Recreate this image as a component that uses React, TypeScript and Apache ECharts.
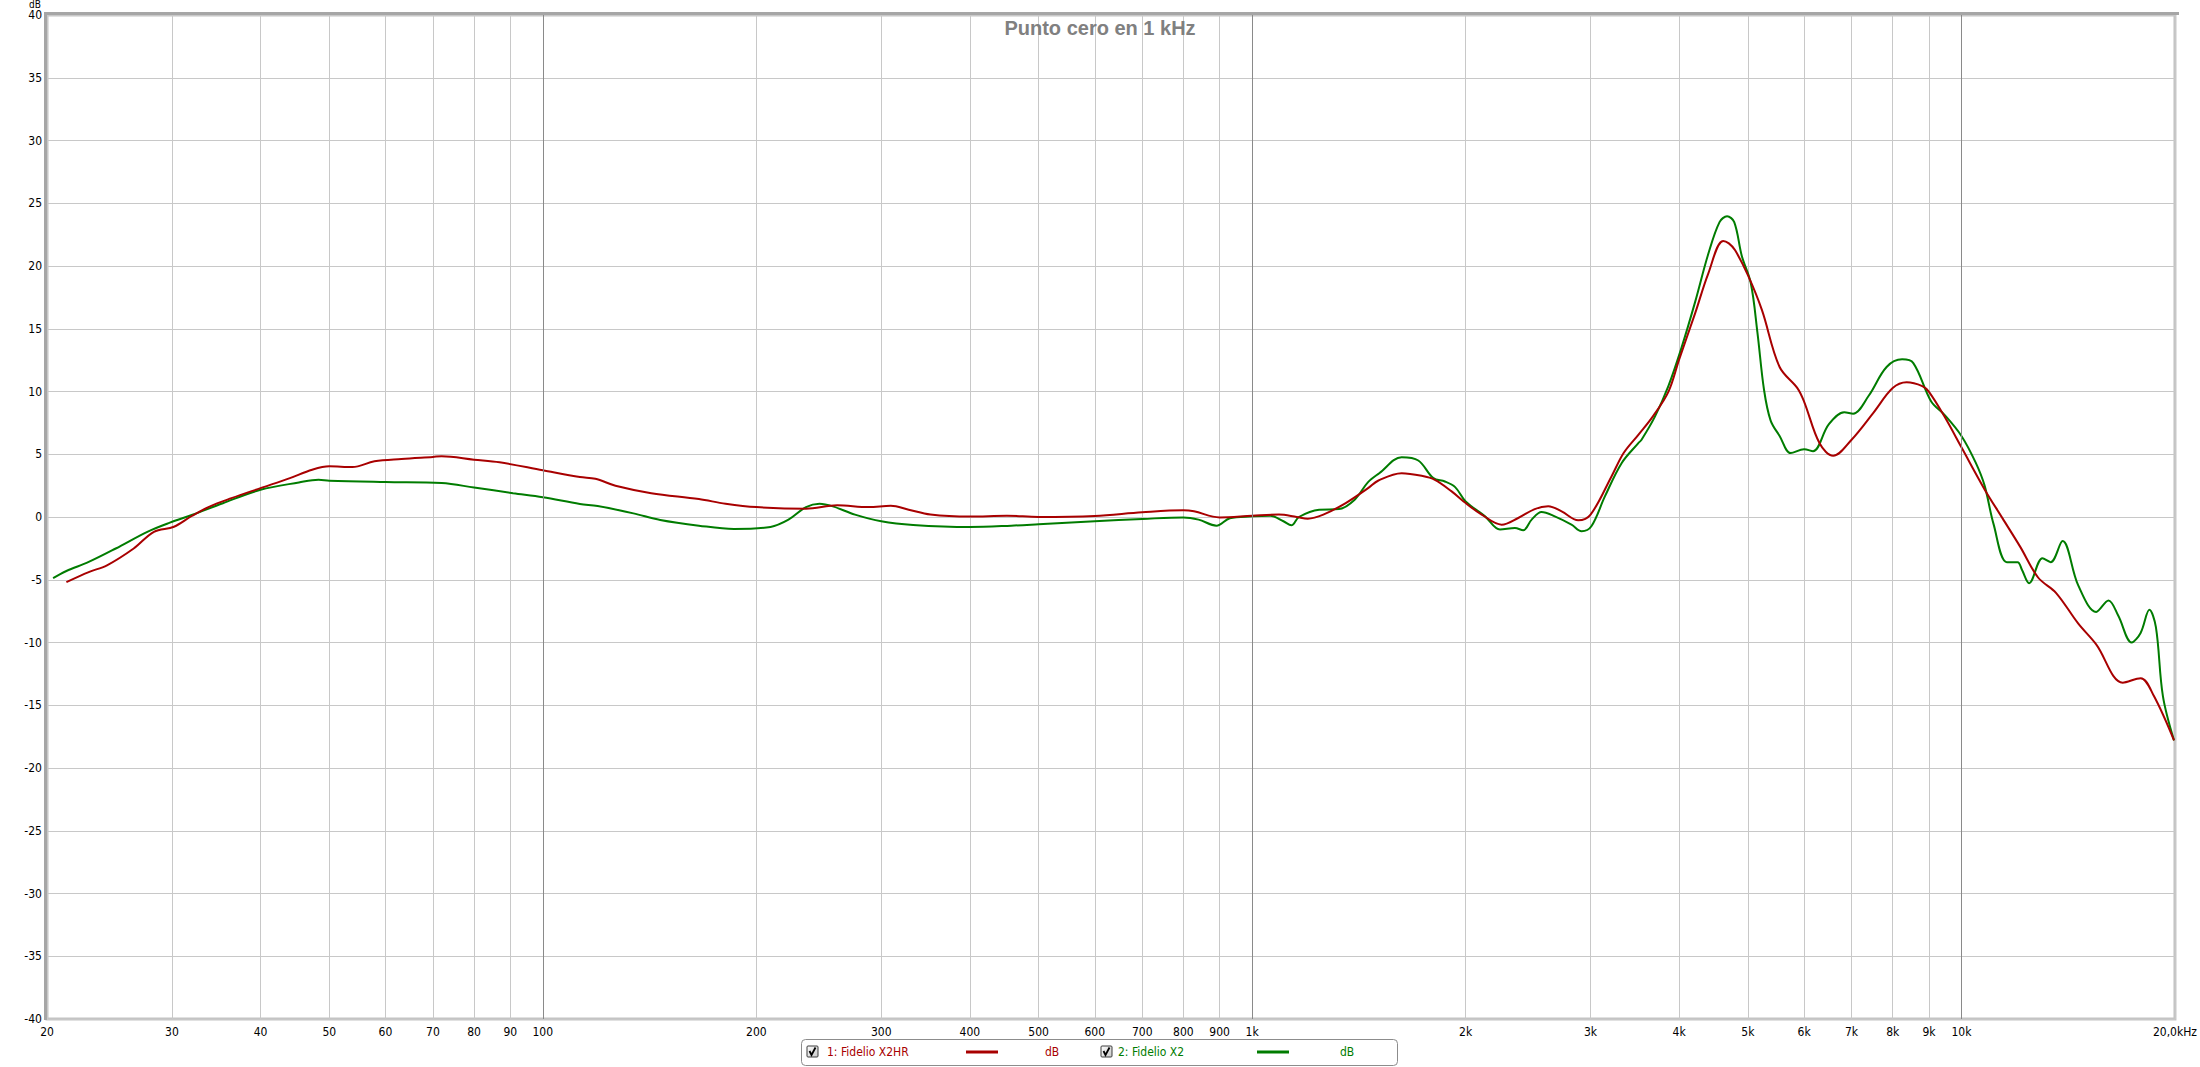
import React, { useEffect, useRef } from "react";
import * as echarts from "echarts";

const FONT = "'Liberation Sans Narrow', 'Arial Narrow', 'DejaVu Sans Condensed', 'Liberation Sans', sans-serif";

const titleText = "Punto cero en 1 kHz";
const seriesNames = ["1: Fidelio X2HR", "2: Fidelio X2"];
const seriesColors = ["#a80000", "#007c00"];

const xTickFreqs = [20, 30, 40, 50, 60, 70, 80, 90, 100, 200, 300, 400, 500, 600, 700, 800, 900, 1000, 2000, 3000, 4000, 5000, 6000, 7000, 8000, 9000, 10000, 20000];
const xTickLabels = ["20", "30", "40", "50", "60", "70", "80", "90", "100", "200", "300", "400", "500", "600", "700", "800", "900", "1k", "2k", "3k", "4k", "5k", "6k", "7k", "8k", "9k", "10k", "20,0kHz"];
const majorFreqs = [100, 1000, 10000];

const x2hrFreq = [21.3, 22.9, 24.3, 26.5, 28.3, 30.2, 32.0, 33.9, 36.4, 40, 44, 47.3, 50, 53.9, 57.9, 63.2, 70, 72, 80, 86.9, 100, 112.8, 118.6, 126.6, 142.2, 166, 181, 200, 235, 260, 288, 309.5, 328, 352, 400, 451, 500, 600, 700, 800, 828, 900, 1000, 1091, 1156, 1198, 1260, 1355, 1457, 1507, 1625, 1734, 1810, 1911, 2000, 2107, 2248, 2372, 2503, 2615, 2731, 2882, 3000, 3211, 3340, 3501, 3671, 3862, 4000, 4211, 4396, 4613, 4700, 4797, 5000, 5232, 5542, 5871, 6000, 6312, 6594, 7000, 7513, 8000, 8370, 8806, 9000, 9465, 10000, 10781, 11423, 12104, 12825, 13592, 14605, 15486, 16882, 17889, 18680, 19939];
const x2hrDb = [-5.19, -4.39, -3.85, -2.51, -1.18, -0.78, 0.08, 0.83, 1.5, 2.3, 3.1, 3.77, 4.04, 3.98, 4.44, 4.63, 4.79, 4.84, 4.57, 4.36, 3.72, 3.18, 3.05, 2.49, 1.9, 1.43, 1.06, 0.79, 0.66, 0.93, 0.79, 0.9, 0.58, 0.19, 0.03, 0.1, 0.0, 0.08, 0.37, 0.53, 0.45, -0.03, 0.1, 0.19, 0.0, -0.13, 0.19, 1.11, 2.3, 2.91, 3.49, 3.28, 2.96, 2.04, 1.11, 0.19, -0.61, -0.08, 0.63, 0.85, 0.45, -0.26, 0.19, 3.23, 5.1, 6.53, 8.0, 9.97, 12.56, 16.2, 19.4, 22.0, 21.8, 21.25, 19.27, 16.5, 11.95, 10.27, 9.2, 5.85, 4.88, 6.16, 8.3, 10.27, 10.73, 10.43, 9.97, 8.0, 5.55, 2.2, -0.09, -2.38, -4.82, -6.04, -8.48, -10.15, -13.2, -12.84, -14.27, -17.8];

const x2Freq = [20.4, 21.3, 22.9, 25, 27.7, 29.8, 32, 35.4, 40, 45.3, 48.3, 50, 60, 72, 80, 90.8, 100, 112.8, 119.5, 134.2, 146.4, 166, 186, 209.4, 222, 235, 245.5, 256.4, 275.5, 300, 332.7, 400, 457.5, 500, 600, 700, 800, 840.5, 890.6, 930.2, 1000, 1060, 1107, 1136, 1164, 1243, 1326, 1395, 1457, 1511, 1625, 1715, 1801, 1870, 1933, 2000, 2130, 2236, 2347, 2411, 2478, 2559, 2671, 2820, 2914, 3008, 3143, 3318, 3501, 3540, 3697, 3862, 4031, 4211, 4396, 4560, 4673, 4783, 4902, 5046, 5157, 5269, 5383, 5542, 5745, 6000, 6177, 6500, 6836, 7035, 7400, 7843, 8249, 8554, 9065, 9465, 10000, 10474, 10781, 11097, 11588, 12000, 12170, 12457, 13009, 13360, 13888, 14605, 15486, 16118, 16640, 17378, 17889, 18408, 18800, 19232, 19939];
const x2Db = [-4.87, -4.3, -3.58, -2.51, -1.18, -0.45, 0.16, 1.1, 2.17, 2.75, 2.97, 2.89, 2.78, 2.7, 2.35, 1.9, 1.58, 1.04, 0.88, 0.29, -0.24, -0.69, -0.95, -0.79, -0.21, 0.79, 1.06, 0.85, 0.19, -0.34, -0.63, -0.79, -0.69, -0.58, -0.34, -0.16, -0.03, -0.21, -0.69, -0.1, 0.05, 0.1, -0.34, -0.66, 0.0, 0.58, 0.63, 1.38, 2.78, 3.49, 4.76, 4.5, 3.1, 2.83, 2.38, 1.24, 0.05, -1.0, -0.87, -1.06, -0.21, 0.4, 0.05, -0.61, -1.14, -0.74, 1.64, 4.29, 5.87, 6.16, 8.0, 10.43, 13.5, 17.1, 20.95, 23.5, 23.96, 23.5, 20.8, 18.66, 14.7, 10.12, 7.68, 6.46, 5.09, 5.4, 5.24, 7.38, 8.35, 8.23, 9.66, 11.95, 12.56, 12.26, 9.2, 8.14, 6.46, 4.33, 2.5, -0.55, -3.6, -3.6, -4.2, -5.27, -3.29, -3.6, -1.92, -5.43, -7.56, -6.65, -7.87, -10.0, -9.24, -7.4, -8.78, -14.27, -17.8];

const yMin = -40;
const yMax = 40;
const yStep = 5;

const toPoints = (f: number[], v: number[]) => f.map((fr, i) => [Math.log10(fr), v[i]]);

function checkbox(x: number, y: number) {
  return {
    type: "group",
    children: [
      {
        type: "rect",
        shape: { x, y, width: 11, height: 11, r: 1 },
        style: {
          fill: new echarts.graphic.LinearGradient(0, 0, 1, 1, [
            { offset: 0, color: "#ffffff" },
            { offset: 1, color: "#c8c8c8" },
          ]),
          stroke: "#3c3c3c",
          lineWidth: 1,
        },
      },
      {
        type: "polyline",
        shape: { points: [[x + 2.5, y + 5], [x + 4.5, y + 9], [x + 8.5, y + 1.5]] },
        style: { stroke: "#000", lineWidth: 1.8, fill: "none" },
      },
    ],
  };
}

export default function App() {
  const ref = useRef<HTMLDivElement>(null);
  useEffect(() => {
    document.body.style.margin = "0";
    const chart = echarts.init(ref.current!, null, { renderer: "svg" });
    const tickVals = xTickFreqs.map((f) => Math.log10(f));
    const labelFor = (v: number) => {
      let best = 0;
      for (let i = 1; i < xTickFreqs.length; i++) {
        if (Math.abs(Math.log10(xTickFreqs[i]) - v) < Math.abs(Math.log10(xTickFreqs[best]) - v)) best = i;
      }
      return xTickLabels[best];
    };
    const legendY = 1052;
    chart.setOption({
      animation: false,
      backgroundColor: "#ffffff",
      title: {
        text: titleText,
        left: "center",
        top: 13,
        textStyle: { fontFamily: "'Liberation Sans', Arial, sans-serif", fontWeight: "bold", fontSize: 20, color: "#808080" },
      },
      grid: {
        left: 47,
        top: 15,
        width: 2131,
        height: 1004,
        show: true,
        borderColor: "#c4c4c4",
        borderWidth: 3,
        backgroundColor: "#ffffff",
      },
      xAxis: {
        type: "value",
        min: Math.log10(20),
        max: Math.log10(20000),
        axisLine: { show: false },
        axisTick: { show: false, customValues: tickVals },
        axisLabel: {
          customValues: tickVals,
          formatter: (v: number) => labelFor(v),
          color: "#000",
          fontSize: 12,
          fontFamily: FONT,
          margin: 7,
        },
        splitLine: { show: true, lineStyle: { color: "#c8c8c8", width: 1 } },
      },
      yAxis: {
        type: "value",
        min: yMin,
        max: yMax,
        interval: yStep,
        axisLine: { show: false },
        axisTick: { show: false },
        axisLabel: { color: "#000", fontSize: 12, fontFamily: FONT, margin: 5, lineHeight: 12 },
        splitLine: { show: true, lineStyle: { color: "#c8c8c8", width: 1 } },
      },
      series: [
        {
          type: "line",
          data: [],
          silent: true,
          z: 1,
          markLine: {
            silent: true,
            symbol: "none",
            label: { show: false },
            lineStyle: { color: "#8a8a8a", width: 1, type: "solid" },
            data: majorFreqs.map((f) => ({ xAxis: Math.log10(f) })),
          },
        },
        {
          name: seriesNames[1],
          type: "line",
          data: toPoints(x2Freq, x2Db),
          showSymbol: false,
          smooth: 0.35,
          lineStyle: { color: seriesColors[1], width: 2 },
          itemStyle: { color: seriesColors[1] },
          z: 3,
        },
        {
          name: seriesNames[0],
          type: "line",
          data: toPoints(x2hrFreq, x2hrDb),
          showSymbol: false,
          smooth: 0.35,
          lineStyle: { color: seriesColors[0], width: 2 },
          itemStyle: { color: seriesColors[0] },
          z: 4,
        },
      ],
      graphic: [
        {
          type: "line",
          shape: { x1: 45.5, y1: 13.5, x2: 45.5, y2: 1020 },
          style: { stroke: "#a6a6a6", lineWidth: 3 },
          z: 10,
        },
        {
          type: "line",
          shape: { x1: 44, y1: 13.5, x2: 2179, y2: 13.5 },
          style: { stroke: "#a6a6a6", lineWidth: 3 },
          z: 10,
        },
        {
          type: "text",
          x: 41,
          y: 0,
          style: { text: "dB", fontFamily: FONT, fontSize: 10, lineHeight: 9, fill: "#000", align: "right", verticalAlign: "top" },
        },
        {
          type: "rect",
          shape: { x: 801.5, y: 1039.5, width: 596, height: 26, r: 4 },
          style: { fill: "#ffffff", stroke: "#8c8c8c", lineWidth: 1 },
        },
        checkbox(807, 1046),
        {
          type: "text",
          x: 827,
          y: legendY,
          style: { text: seriesNames[0], fontFamily: FONT, fontSize: 12, fill: seriesColors[0], verticalAlign: "middle" },
        },
        {
          type: "line",
          shape: { x1: 966, y1: legendY, x2: 998, y2: legendY },
          style: { stroke: seriesColors[0], lineWidth: 3 },
        },
        {
          type: "text",
          x: 1045,
          y: legendY,
          style: { text: "dB", fontFamily: FONT, fontSize: 12, fill: seriesColors[0], verticalAlign: "middle" },
        },
        checkbox(1101, 1046),
        {
          type: "text",
          x: 1118,
          y: legendY,
          style: { text: seriesNames[1], fontFamily: FONT, fontSize: 12, fill: seriesColors[1], verticalAlign: "middle" },
        },
        {
          type: "line",
          shape: { x1: 1257, y1: legendY, x2: 1289, y2: legendY },
          style: { stroke: seriesColors[1], lineWidth: 3 },
        },
        {
          type: "text",
          x: 1340,
          y: legendY,
          style: { text: "dB", fontFamily: FONT, fontSize: 12, fill: seriesColors[1], verticalAlign: "middle" },
        },
      ],
    });
    return () => chart.dispose();
  }, []);
  return <div ref={ref} style={{ width: 2200, height: 1067 }} />;
}
